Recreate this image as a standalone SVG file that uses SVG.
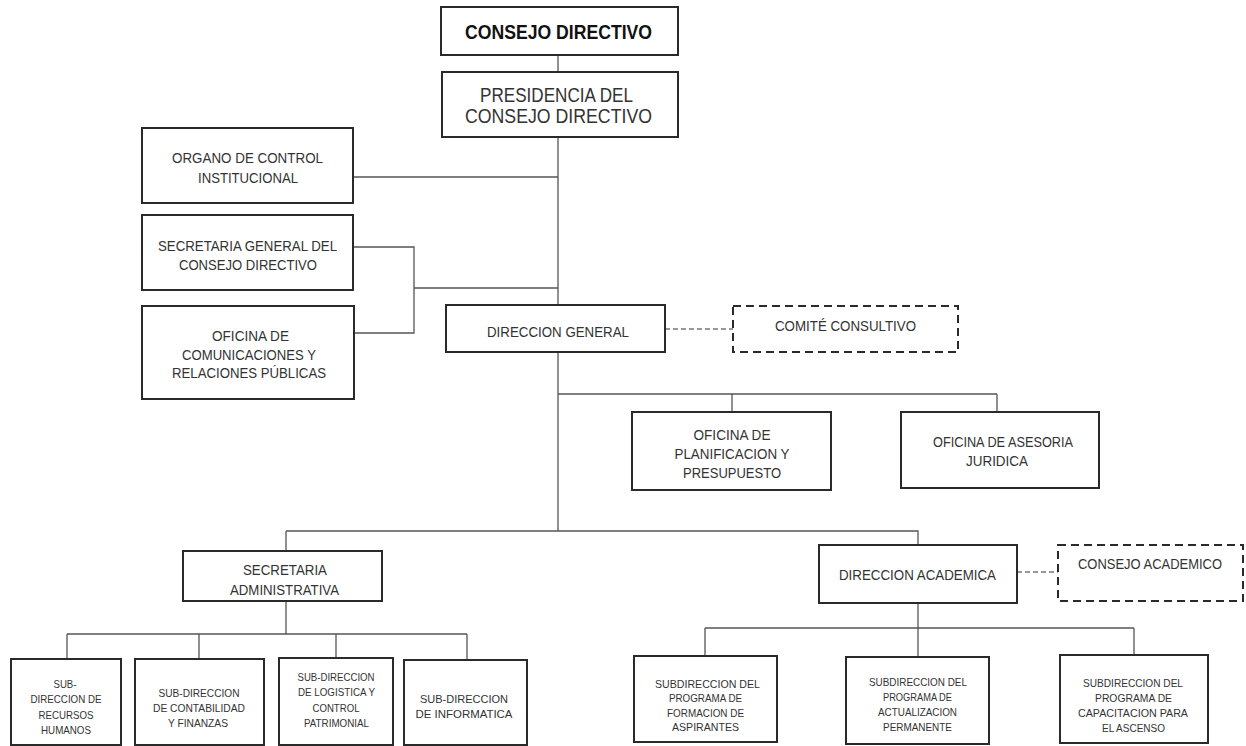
<svg xmlns="http://www.w3.org/2000/svg" width="1246" height="746" viewBox="0 0 1246 746">
<style>
.box{fill:#fff;stroke:#2a2a2a;stroke-width:2}
.dbox{fill:#fff;stroke:#2a2a2a;stroke-width:2;stroke-dasharray:8 5}
.ln{fill:none;stroke:#555;stroke-width:1.3}
.dln{fill:none;stroke:#777;stroke-width:1.3;stroke-dasharray:5 3}
text{font-family:"Liberation Sans",Arial,sans-serif;fill:#333;text-anchor:middle}
.b{font-weight:bold;fill:#111;font-size:19.5px}
.l{font-size:20px}
.m{font-size:15.5px}
.s{font-size:14.5px}
.t{font-size:10.5px}
</style>
<rect width="1246" height="746" fill="#fff"/>
<g id="connectors">
<path class="ln" d="M558,55 V72 M558,137 V305 M353,177 H558 M353,247 H414 V333 H354 M414,288 H558 M558,352 V531 M558,394 H997 M732,394 V412 M997,394 V412 M286,531 H918 V545 M286,531 V551 M286,601 V634 M67,634 H467 M67,634 V659 M199,634 V659 M336,634 V658 M467,634 V660 M918,603 V628 M705,628 H1134 M705,628 V656 M918,628 V657 M1134,628 V655"/>
<path class="dln" d="M665,329 H733 M1017,572 H1058"/>
</g>
<g id="n-consejo"><rect class="box" x="441" y="7" width="237" height="48"/><text class="b" x="558.5" y="39" textLength="187" lengthAdjust="spacingAndGlyphs">CONSEJO DIRECTIVO</text></g>
<g id="n-presidencia"><rect class="box" x="442" y="72" width="236" height="65"/><text class="l" x="556.5" y="102" textLength="153" lengthAdjust="spacingAndGlyphs">PRESIDENCIA DEL</text><text class="l" x="558.5" y="123" textLength="187" lengthAdjust="spacingAndGlyphs">CONSEJO DIRECTIVO</text></g>
<g id="n-organo"><rect class="box" x="142" y="128" width="211" height="75"/><text class="m" x="247.5" y="163" textLength="151" lengthAdjust="spacingAndGlyphs">ORGANO DE CONTROL</text><text class="m" x="248" y="183" textLength="100" lengthAdjust="spacingAndGlyphs">INSTITUCIONAL</text></g>
<g id="n-secgen"><rect class="box" x="142" y="215" width="211" height="75"/><text class="m" x="247.5" y="251" textLength="179" lengthAdjust="spacingAndGlyphs">SECRETARIA GENERAL DEL</text><text class="m" x="248" y="270" textLength="138" lengthAdjust="spacingAndGlyphs">CONSEJO DIRECTIVO</text></g>
<g id="n-ofcom"><rect class="box" x="142" y="306" width="212" height="93"/><text class="m" x="250.5" y="341" textLength="77" lengthAdjust="spacingAndGlyphs">OFICINA DE</text><text class="m" x="249" y="360" textLength="134" lengthAdjust="spacingAndGlyphs">COMUNICACIONES Y</text><text class="m" x="249" y="378" textLength="154" lengthAdjust="spacingAndGlyphs">RELACIONES PÚBLICAS</text></g>
<g id="n-dg"><rect class="box" x="446" y="305" width="219" height="47"/><text class="m" x="558" y="337" textLength="142" lengthAdjust="spacingAndGlyphs">DIRECCION GENERAL</text></g>
<g id="n-comite"><rect class="dbox" x="733" y="306" width="225" height="46"/><text class="m" x="845.5" y="331" textLength="141" lengthAdjust="spacingAndGlyphs">COMITÉ CONSULTIVO</text></g>
<g id="n-planif"><rect class="box" x="632" y="412" width="199" height="78"/><text class="s" x="732" y="440" textLength="77" lengthAdjust="spacingAndGlyphs">OFICINA DE</text><text class="s" x="732" y="459" textLength="115" lengthAdjust="spacingAndGlyphs">PLANIFICACION Y</text><text class="s" x="732" y="478" textLength="98" lengthAdjust="spacingAndGlyphs">PRESUPUESTO</text></g>
<g id="n-asesoria"><rect class="box" x="901" y="412" width="198" height="76"/><text class="s" x="1003" y="447" textLength="140" lengthAdjust="spacingAndGlyphs">OFICINA DE ASESORIA</text><text class="s" x="997" y="466" textLength="62" lengthAdjust="spacingAndGlyphs">JURIDICA</text></g>
<g id="n-secadm"><rect class="box" x="183" y="551" width="199" height="50"/><text class="s" x="285" y="575" textLength="84" lengthAdjust="spacingAndGlyphs">SECRETARIA</text><text class="s" x="284.5" y="595" textLength="109" lengthAdjust="spacingAndGlyphs">ADMINISTRATIVA</text></g>
<g id="n-da"><rect class="box" x="819" y="545" width="198" height="58"/><text class="s" x="917.5" y="580" textLength="157" lengthAdjust="spacingAndGlyphs">DIRECCION ACADEMICA</text></g>
<g id="n-consacad"><rect class="dbox" x="1058" y="545" width="185" height="56"/><text class="s" x="1150" y="569" textLength="144" lengthAdjust="spacingAndGlyphs">CONSEJO ACADEMICO</text></g>
<g id="n-rrhh"><rect class="box" x="11" y="659" width="110" height="86"/><text class="t" x="65" y="688" textLength="23" lengthAdjust="spacingAndGlyphs">SUB-</text><text class="t" x="66" y="703" textLength="71" lengthAdjust="spacingAndGlyphs">DIRECCION DE</text><text class="t" x="66" y="719" textLength="55" lengthAdjust="spacingAndGlyphs">RECURSOS</text><text class="t" x="66" y="734" textLength="50" lengthAdjust="spacingAndGlyphs">HUMANOS</text></g>
<g id="n-contab"><rect class="box" x="135" y="659" width="129" height="86"/><text class="t" x="199" y="697" textLength="81" lengthAdjust="spacingAndGlyphs">SUB-DIRECCION</text><text class="t" x="199" y="712" textLength="92" lengthAdjust="spacingAndGlyphs">DE CONTABILIDAD</text><text class="t" x="198" y="727" textLength="60" lengthAdjust="spacingAndGlyphs">Y FINANZAS</text></g>
<g id="n-logist"><rect class="box" x="279" y="658" width="114" height="87"/><text class="t" x="336" y="681" textLength="77" lengthAdjust="spacingAndGlyphs">SUB-DIRECCION</text><text class="t" x="336.5" y="696" textLength="77" lengthAdjust="spacingAndGlyphs">DE LOGISTICA Y</text><text class="t" x="336" y="712" textLength="47" lengthAdjust="spacingAndGlyphs">CONTROL</text><text class="t" x="336.5" y="727" textLength="65" lengthAdjust="spacingAndGlyphs">PATRIMONIAL</text></g>
<g id="n-inform"><rect class="box" x="404" y="660" width="123" height="85"/><text class="t" x="464" y="703" textLength="88" lengthAdjust="spacingAndGlyphs">SUB-DIRECCION</text><text class="t" x="464" y="718" textLength="97" lengthAdjust="spacingAndGlyphs">DE INFORMATICA</text></g>
<g id="n-formacion"><rect class="box" x="634" y="656" width="143" height="86"/><text class="t" x="707.5" y="688" textLength="105" lengthAdjust="spacingAndGlyphs">SUBDIRECCION DEL</text><text class="t" x="705.5" y="702" textLength="73" lengthAdjust="spacingAndGlyphs">PROGRAMA DE</text><text class="t" x="705.5" y="717" textLength="77" lengthAdjust="spacingAndGlyphs">FORMACION DE</text><text class="t" x="705.5" y="731" textLength="67" lengthAdjust="spacingAndGlyphs">ASPIRANTES</text></g>
<g id="n-actualiz"><rect class="box" x="846" y="657" width="143" height="87"/><text class="t" x="918" y="686" textLength="98" lengthAdjust="spacingAndGlyphs">SUBDIRECCION DEL</text><text class="t" x="917.5" y="701" textLength="69" lengthAdjust="spacingAndGlyphs">PROGRAMA DE</text><text class="t" x="917.5" y="716" textLength="79" lengthAdjust="spacingAndGlyphs">ACTUALIZACION</text><text class="t" x="917.5" y="731" textLength="69" lengthAdjust="spacingAndGlyphs">PERMANENTE</text></g>
<g id="n-capacit"><rect class="box" x="1060" y="655" width="148" height="88"/><text class="t" x="1133" y="687" textLength="100" lengthAdjust="spacingAndGlyphs">SUBDIRECCION DEL</text><text class="t" x="1133.5" y="702" textLength="77" lengthAdjust="spacingAndGlyphs">PROGRAMA DE</text><text class="t" x="1133" y="717" textLength="110" lengthAdjust="spacingAndGlyphs">CAPACITACION PARA</text><text class="t" x="1133.5" y="732" textLength="63" lengthAdjust="spacingAndGlyphs">EL ASCENSO</text></g>
</svg>
